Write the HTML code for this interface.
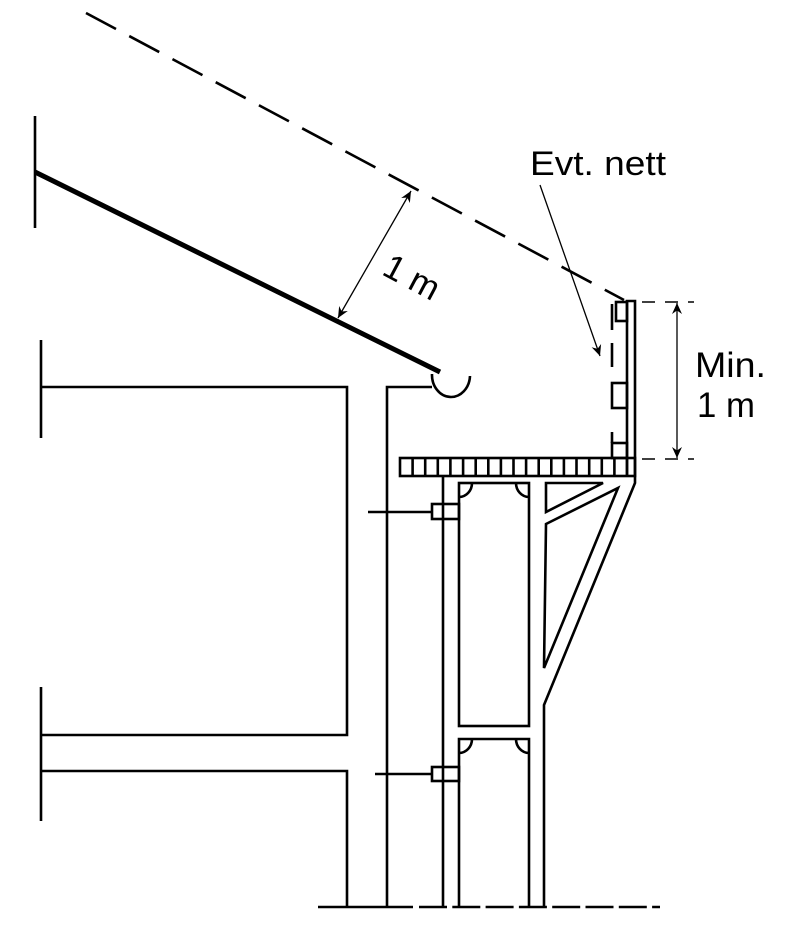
<!DOCTYPE html>
<html>
<head>
<meta charset="utf-8">
<style>
  html, body { margin: 0; padding: 0; background: #fff; }
  svg { display: block; }
  text { font-family: "Liberation Sans", "DejaVu Sans", sans-serif; fill: #000; }
</style>
</head>
<body>
<svg width="800" height="941" viewBox="0 0 800 941" xmlns="http://www.w3.org/2000/svg">
  <defs>
    <marker id="ah" markerUnits="userSpaceOnUse" markerWidth="16" markerHeight="14" viewBox="-12 -7 14 14" refX="0" refY="0" orient="auto-start-reverse">
      <path d="M0,0 L-11,-5 L-7.5,0 L-11,5 Z" fill="#000"/>
    </marker>
  </defs>

  <g fill="none" stroke="#000" stroke-width="2.6" stroke-linecap="butt">
    <!-- dashed roof clearance line -->
    <line x1="86" y1="13" x2="624" y2="300" stroke-dasharray="34 15"/>

    <!-- roof -->
    <line x1="35" y1="116" x2="35" y2="228"/>
    <line x1="35" y1="172" x2="440" y2="372" stroke-width="5"/>

    <!-- gutter -->
    <path d="M432,374 A19,22 0 0,0 470,376"/>

    <!-- building upper -->
    <line x1="41" y1="340" x2="41" y2="438"/>
    <polyline points="41,387 347,387 347,735 41,735"/>
    <!-- building lower -->
    <line x1="41" y1="687" x2="41" y2="821"/>
    <polyline points="41,771 347,771 347,907"/>

    <!-- wall column -->
    <polyline points="432,387 387,387 387,907"/>

    <!-- ground dashed line -->
    <line x1="318" y1="907" x2="413" y2="907"/>
    <line x1="419" y1="907" x2="660" y2="907" stroke-dasharray="28 5.3"/>

    <!-- deck -->
    <rect x="400" y="458" width="235" height="18"/>
    <g>
      <line x1="412.6" y1="458" x2="412.6" y2="476"/>
      <line x1="425.2" y1="458" x2="425.2" y2="476"/>
      <line x1="437.8" y1="458" x2="437.8" y2="476"/>
      <line x1="450.4" y1="458" x2="450.4" y2="476"/>
      <line x1="463.1" y1="458" x2="463.1" y2="476"/>
      <line x1="475.7" y1="458" x2="475.7" y2="476"/>
      <line x1="488.3" y1="458" x2="488.3" y2="476"/>
      <line x1="500.9" y1="458" x2="500.9" y2="476"/>
      <line x1="513.5" y1="458" x2="513.5" y2="476"/>
      <line x1="526.1" y1="458" x2="526.1" y2="476"/>
      <line x1="538.7" y1="458" x2="538.7" y2="476"/>
      <line x1="551.3" y1="458" x2="551.3" y2="476"/>
      <line x1="563.9" y1="458" x2="563.9" y2="476"/>
      <line x1="576.5" y1="458" x2="576.5" y2="476"/>
      <line x1="589.2" y1="458" x2="589.2" y2="476"/>
      <line x1="601.8" y1="458" x2="601.8" y2="476"/>
      <line x1="614.4" y1="458" x2="614.4" y2="476"/>
      <line x1="627" y1="458" x2="627" y2="476"/>
    </g>

    <!-- guardrail post -->
    <polyline points="627,476 627,301 635,301 635,476"/>
    <!-- rails -->
    <rect x="616" y="302" width="11" height="19"/>
    <rect x="612" y="383" width="15" height="25"/>
    <rect x="612" y="443" width="15" height="15"/>
    <!-- net dashes -->
    <line x1="612" y1="304" x2="612" y2="330"/>
    <line x1="612" y1="343" x2="612" y2="367"/>
    <line x1="612" y1="432" x2="612" y2="443"/>

    <!-- scaffold standards -->
    <line x1="443" y1="476" x2="443" y2="907"/>
    <rect x="459" y="483" width="70" height="243"/>
    <polyline points="459,907 459,739 529,739 529,907"/>
    <line x1="529" y1="726" x2="529" y2="739" stroke="none"/>
    <!-- fillets -->
    <path d="M472,483 A13,14 0 0,1 459,497"/>
    <path d="M516,483 A13,14 0 0,0 529,497"/>
    <path d="M472,739 A13,14 0 0,1 459,753"/>
    <path d="M516,739 A13,14 0 0,0 529,753"/>

    <!-- bracket outline -->
    <polyline points="635,476 635,483 544,705 544,907"/>
    <polygon points="546,483 603,483 546,512"/>
    <polygon points="546,524 618,488 544,668"/>

    <!-- anchors -->
    <rect x="432" y="504" width="27" height="15"/>
    <line x1="368" y1="512" x2="432" y2="512"/>
    <rect x="432" y="767" width="27" height="14"/>
    <line x1="375" y1="774" x2="432" y2="774"/>

    <!-- dimension extension lines -->
    <line x1="642" y1="302" x2="694" y2="302" stroke-width="1.4" stroke-dasharray="13 10"/>
    <line x1="642" y1="459" x2="694" y2="459" stroke-width="1.4" stroke-dasharray="13 10"/>
  </g>

  <!-- dimension arrows -->
  <g stroke="#000" stroke-width="1.3" fill="none">
    <line x1="677" y1="303" x2="677" y2="458" marker-start="url(#ah)" marker-end="url(#ah)"/>
    <line x1="411" y1="191" x2="338" y2="318" marker-start="url(#ah)" marker-end="url(#ah)"/>
    <line x1="540" y1="185" x2="600" y2="356" marker-end="url(#ah)"/>
  </g>

  <!-- labels -->
  <text x="530" y="175" font-size="34" textLength="136" lengthAdjust="spacingAndGlyphs">Evt. nett</text>
  <text x="695" y="377" font-size="35" textLength="71" lengthAdjust="spacingAndGlyphs">Min.</text>
  <text x="697" y="417" font-size="35" textLength="58" lengthAdjust="spacingAndGlyphs">1 m</text>
  <text x="412" y="289" font-size="35" text-anchor="middle" transform="rotate(28 412 277)">1 m</text>
</svg>
</body>
</html>
